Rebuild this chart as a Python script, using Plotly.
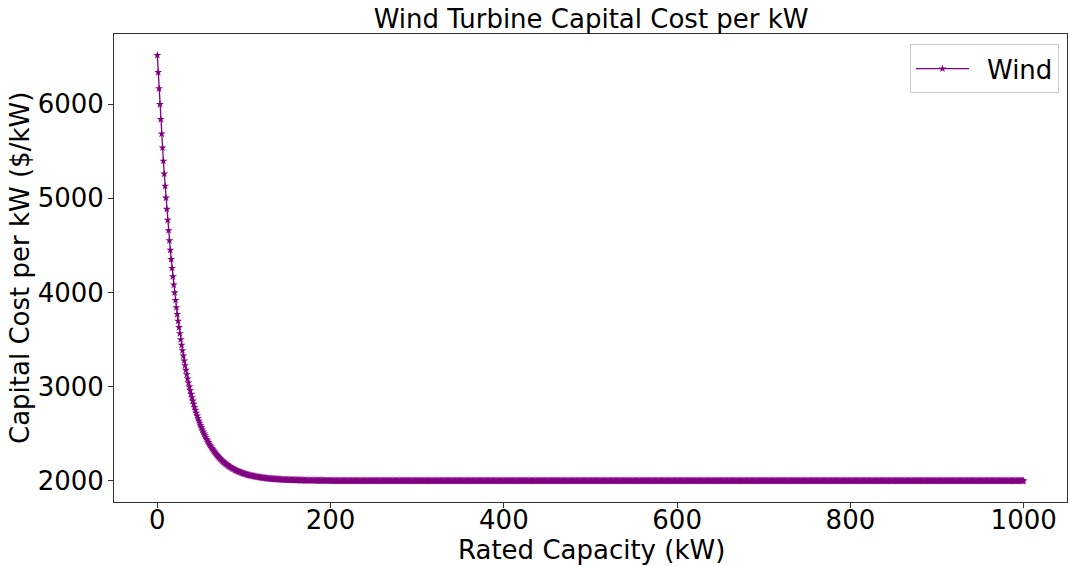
import plotly.graph_objects as go

# Rated capacity (kW)
capacity_kw = list(range(0, 1001))

# Capital cost per kW ($/kW): steep decay, then flat at ~2000
cost_head = [
    6520, 6339, 6166, 5999, 5839, 5685, 5538, 5397, 5261, 5130,
    5005, 4885, 4769, 4659, 4552, 4450, 4352, 4258, 4168, 4081,
    3998, 3918, 3841, 3768, 3697, 3629, 3564, 3501, 3441, 3384,
    3328, 3275, 3224, 3175, 3128, 3083, 3040, 2998, 2958, 2920,
    2883, 2848, 2814, 2781, 2750, 2720, 2691, 2664, 2637, 2612,
    2587, 2564, 2541, 2519, 2499, 2479, 2460, 2441, 2424, 2407,
    2390, 2375, 2360, 2345, 2332, 2318, 2306, 2293, 2282, 2270,
    2260, 2249, 2239, 2230, 2220, 2212, 2203, 2195, 2187, 2180,
    2173, 2166, 2159, 2153, 2147, 2141, 2135, 2130, 2125, 2120,
    2115, 2110, 2106, 2102, 2097, 2094, 2090, 2086, 2083, 2079,
    2076, 2073, 2070, 2068, 2065, 2062, 2060, 2057, 2055, 2053,
    2051, 2049, 2047, 2045, 2043, 2041, 2040, 2038, 2037, 2035,
    2034, 2032, 2031, 2030, 2029, 2028, 2026, 2025, 2024, 2023,
    2022, 2022, 2021, 2020, 2019, 2018, 2018, 2017, 2016, 2016,
    2015, 2014, 2014, 2013, 2013, 2012, 2012, 2011, 2011, 2010,
    2010, 2010, 2009, 2009, 2008, 2008, 2008, 2007, 2007, 2007,
    2007, 2006, 2006, 2006, 2006, 2005, 2005, 2005, 2005, 2005,
    2004, 2004, 2004, 2004, 2004, 2004, 2003, 2003, 2003, 2003,
    2003, 2003, 2003, 2002, 2002, 2002, 2002, 2002, 2002, 2002,
    2002, 2002, 2002, 2001, 2001, 2001, 2001, 2001, 2001, 2001,
    2001,
]
cost_tail = [2000] * (len(capacity_kw) - len(cost_head))
cost_per_kw = cost_head + cost_tail

x_ticks = [0, 200, 400, 600, 800, 1000]
y_ticks = [2000, 3000, 4000, 5000, 6000]

FONT = "DejaVu Sans"
FS = 26
fig = go.Figure()
fig.add_trace(go.Scatter(
    x=capacity_kw, y=cost_per_kw, mode="lines+markers", name="\u2002Wind",
    line=dict(color="#800080", width=1.3),
    marker=dict(symbol="star", size=6, color="#800080", line=dict(width=0)),
))

axis_common = dict(
    showgrid=False, zeroline=False, showline=True, mirror=True,
    linecolor="#333333", linewidth=1, ticks="outside", ticklen=5,
    tickcolor="#333333", tickfont=dict(family=FONT, size=FS, color="black"),
)

fig.update_layout(
    width=1068, height=566,
    margin=dict(l=114, r=1, t=34, b=64),
    paper_bgcolor="white", plot_bgcolor="white",
    font=dict(family=FONT, size=FS, color="black"),
    title=dict(text="Wind Turbine Capital Cost per kW", x=0.5535, xanchor="center",
               y=(566 - 19) / 566, yanchor="middle",
               font=dict(family=FONT, size=FS, color="black")),
    xaxis=dict(range=[-50, 1050], tickvals=x_ticks, ticktext=[str(t) for t in x_ticks],
               ticklabelstandoff=-10, **axis_common),
    yaxis=dict(range=[1774, 6746], tickvals=y_ticks, ticktext=[str(t) for t in y_ticks],
               ticklabelstandoff=-1, **axis_common),
    legend=dict(x=0.9916, xanchor="right", y=0.978, yanchor="top",
                bgcolor="white", bordercolor="#cccccc", borderwidth=1,
                itemwidth=53,
                font=dict(family=FONT, size=FS)),
    showlegend=True,
    annotations=[
        dict(text="Rated Capacity (kW)", xref="paper", yref="paper",
             x=0.501, y=(502 - 550) / 468, xanchor="center", yanchor="middle",
             showarrow=False, font=dict(family=FONT, size=FS, color="black")),
        dict(text="Capital Cost per kW ($/kW)", xref="paper", yref="paper",
             x=(20 - 114) / 953, y=0.5, xanchor="center", yanchor="middle", textangle=-90,
             showarrow=False, font=dict(family=FONT, size=FS, color="black")),
    ],
)

fig.write_html("out.html")
